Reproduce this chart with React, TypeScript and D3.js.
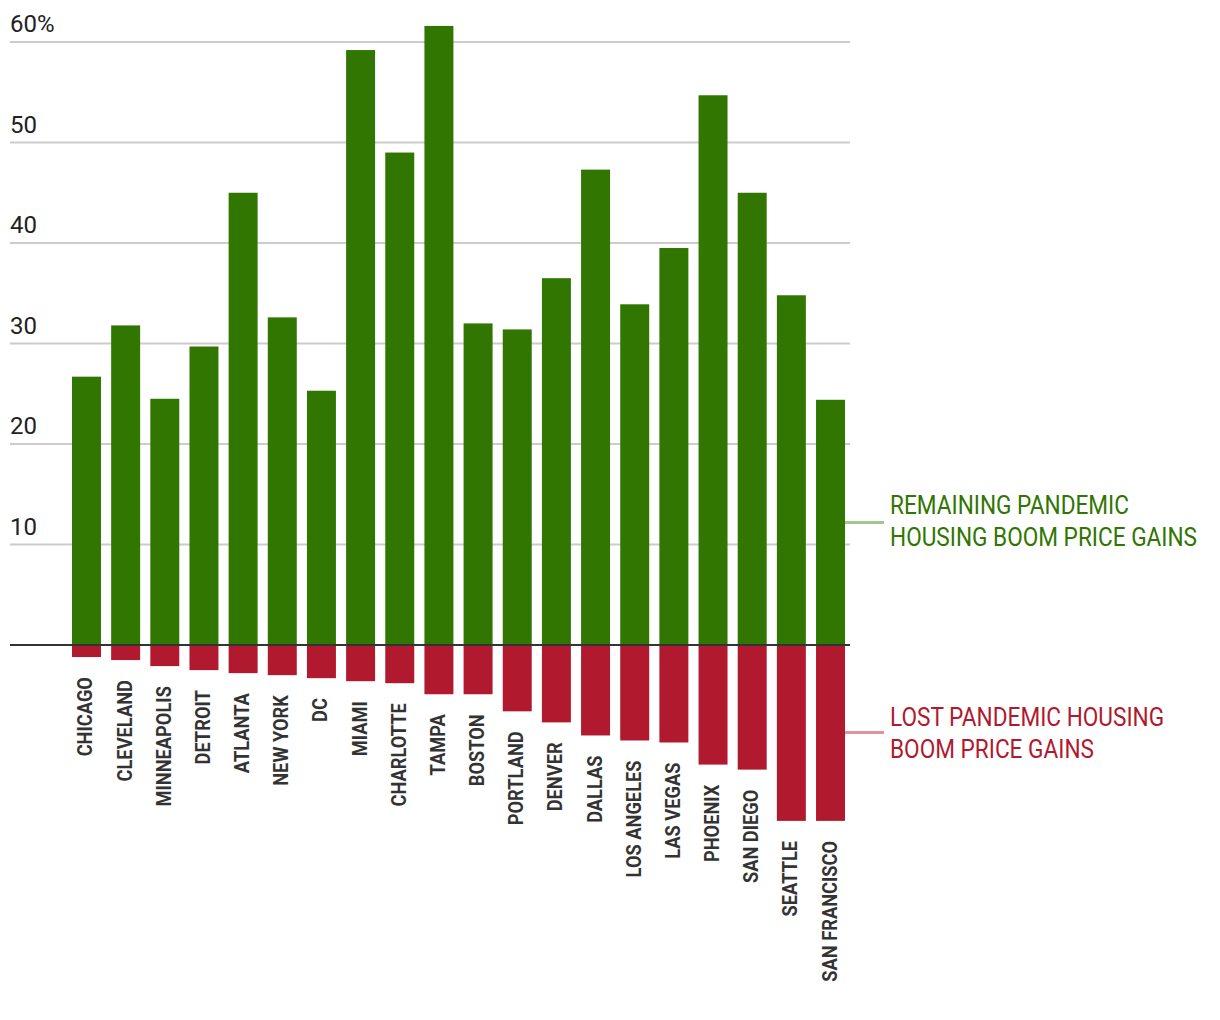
import React, { useRef, useEffect } from "react";
import * as d3 from "d3";

const cities = [
  "CHICAGO", "CLEVELAND", "MINNEAPOLIS", "DETROIT", "ATLANTA", "NEW YORK", "DC",
  "MIAMI", "CHARLOTTE", "TAMPA", "BOSTON", "PORTLAND", "DENVER", "DALLAS",
  "LOS ANGELES", "LAS VEGAS", "PHOENIX", "SAN DIEGO", "SEATTLE", "SAN FRANCISCO",
];
const remaining = [
  26.7, 31.8, 24.5, 29.7, 45.0, 32.6, 25.3, 59.2, 49.0, 61.6,
  32.0, 31.4, 36.5, 47.3, 33.9, 39.5, 54.7, 45.0, 34.8, 24.4,
];
const lost = [
  -1.2, -1.5, -2.1, -2.5, -2.8, -3.0, -3.3, -3.6, -3.8, -4.9,
  -4.9, -6.6, -7.7, -9.0, -9.5, -9.7, -11.9, -12.4, -17.5, -17.5,
];
const yTicks = [10, 20, 30, 40, 50, 60];
const legendRemaining = ["REMAINING PANDEMIC", "HOUSING BOOM PRICE GAINS"];
const legendLost = ["LOST PANDEMIC HOUSING", "BOOM PRICE GAINS"];

const GREEN = "#307600";
const RED = "#b0192e";
const font = "Roboto, sans-serif";

const App = () => {
  const ref = useRef<SVGSVGElement>(null);

  useEffect(() => {
    const svg = d3.select(ref.current);
    svg.selectAll("*").remove();

    const x = d3
      .scaleBand<string>()
      .domain(cities)
      .range([66.9, 850.1])
      .paddingInner(0.26)
      .paddingOuter(0.13);
    const y = d3.scaleLinear().domain([0, 60]).range([645, 42]);

    // gridlines + labels
    const grid = svg.append("g");
    yTicks.forEach((t) => {
      grid
        .append("line")
        .attr("x1", 10)
        .attr("x2", 850)
        .attr("y1", y(t))
        .attr("y2", y(t))
        .attr("stroke", "#cccccc")
        .attr("stroke-width", 2);
      grid
        .append("text")
        .attr("x", 10)
        .attr("y", y(t) - 10)
        .attr("font-family", font)
        .attr("font-size", 24)
        .attr("fill", "#222")
        .text(t === 60 ? `${t}%` : `${t}`);
    });

    // legend connectors
    svg
      .append("line")
      .attr("x1", 845)
      .attr("x2", 884)
      .attr("y1", y(12.2))
      .attr("y2", y(12.2))
      .attr("stroke", "#a5c68f")
      .attr("stroke-width", 3);
    svg
      .append("line")
      .attr("x1", 845)
      .attr("x2", 884)
      .attr("y1", y(-8.7))
      .attr("y2", y(-8.7))
      .attr("stroke", "#e0939d")
      .attr("stroke-width", 3);

    const bars = svg.append("g");
    bars
      .selectAll(".pos")
      .data(remaining)
      .enter()
      .append("rect")
      .attr("x", (_, i) => x(cities[i])!)
      .attr("width", x.bandwidth())
      .attr("y", (d) => y(d))
      .attr("height", (d) => y(0) - y(d))
      .attr("fill", GREEN);
    bars
      .selectAll(".neg")
      .data(lost)
      .enter()
      .append("rect")
      .attr("x", (_, i) => x(cities[i])!)
      .attr("width", x.bandwidth())
      .attr("y", y(0))
      .attr("height", (d) => y(d) - y(0))
      .attr("fill", RED);

    // zero line
    svg
      .append("line")
      .attr("x1", 10)
      .attr("x2", 850)
      .attr("y1", y(0))
      .attr("y2", y(0))
      .attr("stroke", "#333")
      .attr("stroke-width", 2);

    // city labels (condensed look via horizontal squeeze)
    svg
      .append("g")
      .selectAll("text")
      .data(cities)
      .enter()
      .append("text")
      .attr("transform", (d, i) => {
        const cx = x(d)! + x.bandwidth() / 2 + 6;
        const cy = y(lost[i]) + 20;
        return `translate(${cx},${cy}) rotate(-90) scale(0.87,1)`;
      })
      .attr("text-anchor", "end")
      .attr("font-family", font)
      .attr("font-weight", 700)
      .attr("font-size", 21)
      .attr("fill", "#333")
      .text((d) => d);

    // legend text
    const legend = (lines: string[], top: number, color: string) => {
      const g = svg
        .append("g")
        .attr("transform", `translate(890,${top}) scale(0.905,1)`);
      lines.forEach((l, i) => {
        g.append("text")
          .attr("x", 0)
          .attr("y", i * 32)
          .attr("font-family", font)
          .attr("font-size", 25)
          .attr("fill", color)
          .text(l);
      });
    };
    legend(legendRemaining, 514, GREEN);
    legend(legendLost, 726, RED);
  }, []);

  return (
    <svg
      ref={ref}
      width={1220}
      height={1020}
      style={{ position: "absolute", left: 0, top: 0, background: "#fff" }}
    />
  );
};

export default App;
